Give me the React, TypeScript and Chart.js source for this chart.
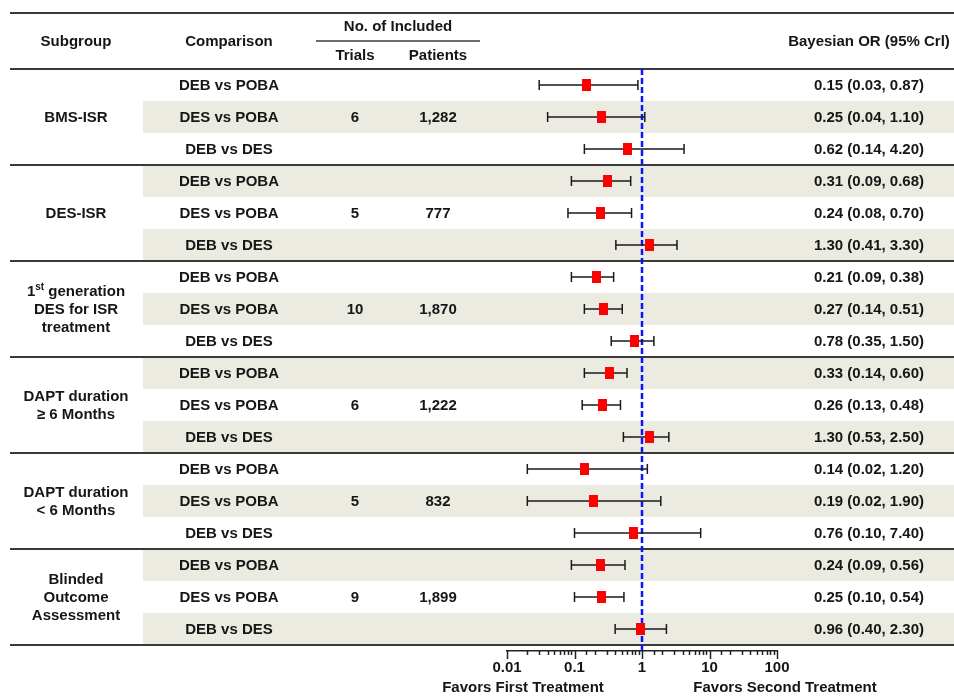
import React, { useEffect, useRef } from 'react';
import { Chart, registerables } from 'chart.js';

Chart.register(...registerables);

// ---------------- data ----------------
const SUBGROUP_LINES: string[][] = [
  ['BMS-ISR'],
  ['DES-ISR'],
  ['1^{st} generation', 'DES for ISR', 'treatment'],
  ['DAPT duration', '\u2265 6 Months'],
  ['DAPT duration', '< 6 Months'],
  ['Blinded', 'Outcome', 'Assessment'],
];
const COMPARISONS = ['DEB vs POBA', 'DES vs POBA', 'DEB vs DES'];
const TRIALS = ['6', '5', '10', '6', '5', '9'];
const PATIENTS = ['1,282', '777', '1,870', '1,222', '832', '1,899'];

const OR_MEAN = [0.15, 0.25, 0.62, 0.31, 0.24, 1.3, 0.21, 0.27, 0.78, 0.33, 0.26, 1.3, 0.14, 0.19, 0.76, 0.24, 0.25, 0.96];
const OR_LOW = [0.03, 0.04, 0.14, 0.09, 0.08, 0.41, 0.09, 0.14, 0.35, 0.14, 0.13, 0.53, 0.02, 0.02, 0.1, 0.09, 0.1, 0.4];
const OR_HIGH = [0.87, 1.1, 4.2, 0.68, 0.7, 3.3, 0.38, 0.51, 1.5, 0.6, 0.48, 2.5, 1.2, 1.9, 7.4, 0.56, 0.54, 2.3];

const X_TICK_VALUES = [0.01, 0.1, 1, 10, 100];
const X_TICK_LABELS = ['0.01', '0.1', '1', '10', '100'];
const REF_VALUE = 1;

const HEADERS = {
  subgroup: 'Subgroup',
  comparison: 'Comparison',
  included: 'No. of Included',
  trials: 'Trials',
  patients: 'Patients',
  or: 'Bayesian OR (95% Crl)',
};
const FAVORS_LEFT = 'Favors First Treatment';
const FAVORS_RIGHT = 'Favors Second Treatment';

// ---------------- layout ----------------
const W = 954;
const H = 697;
const ROWS = OR_MEAN.length;
const ROW_H = 32;
const TABLE_TOP = 69;
const AXIS_Y = 651;
const Y_MAX = (AXIS_Y - TABLE_TOP) / ROW_H;
const FONT_FAMILY = '"Liberation Sans", Arial, Helvetica, sans-serif';
const FONT = `bold 15px ${FONT_FAMILY}`;
const TEXT_COLOR = '#161616';
const LINE_COLOR = '#3a3a3a';
const SHADE = '#ecebe1';

const COL = { subgroup: 76, comparison: 229, trials: 355, patients: 438, or: 869 };

function fmt(v: number) {
  return v.toFixed(2);
}

function drawRich(ctx: CanvasRenderingContext2D, text: string, cx: number, cy: number) {
  // supports "^{...}" superscripts
  const parts: { t: string; sup: boolean }[] = [];
  const re = /\^\{([^}]*)\}/g;
  let last = 0;
  let m: RegExpExecArray | null;
  while ((m = re.exec(text))) {
    if (m.index > last) parts.push({ t: text.slice(last, m.index), sup: false });
    parts.push({ t: m[1], sup: true });
    last = m.index + m[0].length;
  }
  if (last < text.length) parts.push({ t: text.slice(last), sup: false });
  const supFont = `bold 10px ${FONT_FAMILY}`;
  let total = 0;
  for (const p of parts) {
    ctx.font = p.sup ? supFont : FONT;
    total += ctx.measureText(p.t).width;
  }
  let x = cx - total / 2;
  ctx.textAlign = 'left';
  for (const p of parts) {
    ctx.font = p.sup ? supFont : FONT;
    ctx.fillText(p.t, x, p.sup ? cy - 5 : cy);
    x += ctx.measureText(p.t).width;
  }
  ctx.font = FONT;
}

const tablePlugin = {
  id: 'forestTable',
  beforeDraw(chart: any) {
    const ctx: CanvasRenderingContext2D = chart.ctx;
    const y = chart.scales.y;
    ctx.save();
    ctx.fillStyle = '#ffffff';
    ctx.fillRect(0, 0, W, H);
    ctx.fillStyle = SHADE;
    for (let i = 0; i < ROWS; i++) {
      if (i % 2 === 1) {
        const y0 = y.getPixelForValue(i);
        const y1 = y.getPixelForValue(i + 1);
        ctx.fillRect(143, y0, W - 143, y1 - y0);
      }
    }
    // horizontal rules
    ctx.strokeStyle = LINE_COLOR;
    ctx.lineWidth = 2;
    const rule = (yy: number, x0: number, x1: number) => {
      ctx.beginPath();
      ctx.moveTo(x0, yy);
      ctx.lineTo(x1, yy);
      ctx.stroke();
    };
    rule(13, 10, W);
    for (let g = 0; g <= SUBGROUP_LINES.length; g++) {
      rule(Math.round(y.getPixelForValue(g * 3)), 10, W);
    }
    ctx.lineWidth = 1.5;
    rule(41, 316, 480);
    ctx.restore();
  },
  afterDraw(chart: any) {
    const ctx: CanvasRenderingContext2D = chart.ctx;
    const x = chart.scales.x;
    const y = chart.scales.y;
    ctx.save();
    // axis tick marks
    ctx.strokeStyle = '#222';
    ctx.lineWidth = 1.5;
    for (const t of x.ticks) {
      const lg = Math.log10(t.value);
      const major = Math.abs(lg - Math.round(lg)) < 1e-6;
      const px = Math.round(x.getPixelForValue(t.value)) + 0.5;
      ctx.beginPath();
      ctx.moveTo(px, AXIS_Y);
      ctx.lineTo(px, AXIS_Y + (major ? 8 : 4));
      ctx.stroke();
    }
    ctx.fillStyle = TEXT_COLOR;
    ctx.font = FONT;
    ctx.textAlign = 'center';
    ctx.textBaseline = 'middle';
    // headers
    ctx.fillText(HEADERS.subgroup, COL.subgroup, 42);
    ctx.fillText(HEADERS.comparison, COL.comparison, 42);
    ctx.fillText(HEADERS.included, 398, 27);
    ctx.fillText(HEADERS.trials, COL.trials, 56);
    ctx.fillText(HEADERS.patients, COL.patients, 56);
    ctx.fillText(HEADERS.or, COL.or, 42);
    // rows
    for (let i = 0; i < ROWS; i++) {
      const cy = y.getPixelForValue(i + 0.5) + 1;
      ctx.fillText(COMPARISONS[i % 3], COL.comparison, cy);
      ctx.fillText(`${fmt(OR_MEAN[i])} (${fmt(OR_LOW[i])}, ${fmt(OR_HIGH[i])})`, COL.or, cy);
    }
    for (let g = 0; g < SUBGROUP_LINES.length; g++) {
      const cy = y.getPixelForValue(g * 3 + 1.5) + 1;
      ctx.fillText(TRIALS[g], COL.trials, cy);
      ctx.fillText(PATIENTS[g], COL.patients, cy);
      const lines = SUBGROUP_LINES[g];
      const lh = 18;
      const start = cy - ((lines.length - 1) * lh) / 2;
      lines.forEach((ln, k) => {
        drawRich(ctx, ln, COL.subgroup, start + k * lh);
        ctx.textAlign = 'center';
      });
    }
    // favors labels
    ctx.textAlign = 'center';
    ctx.fillText(FAVORS_LEFT, 523, 688);
    ctx.fillText(FAVORS_RIGHT, 785, 688);
    ctx.restore();
  },
};

function makeSquare(): HTMLCanvasElement {
  const c = document.createElement('canvas');
  c.width = 9;
  c.height = 12;
  const g = c.getContext('2d')!;
  g.fillStyle = '#ff0000';
  g.fillRect(0, 0, 9, 12);
  return c;
}

export default function App() {
  const ref = useRef<HTMLCanvasElement | null>(null);
  useEffect(() => {
    document.body.style.margin = '0';
    const canvas = ref.current;
    if (!canvas) return;
    const square = makeSquare();
    const points = OR_MEAN.map((v, i) => ({ x: v, y: i + 0.5 }));
    const ci: any[] = [];
    OR_MEAN.forEach((_, i) => {
      ci.push({ x: OR_LOW[i], y: i + 0.5 });
      ci.push({ x: OR_HIGH[i], y: i + 0.5 });
      ci.push({ x: OR_HIGH[i], y: null });
    });
    const chart = new Chart(canvas, {
      type: 'scatter',
      data: {
        datasets: [
          {
            type: 'scatter',
            data: points,
            pointStyle: square as any,
            pointRadius: 6,
            order: 0,
          } as any,
          {
            type: 'line',
            data: ci,
            borderColor: '#1a1a1a',
            borderWidth: 1.5,
            spanGaps: false,
            showLine: true,
            pointStyle: 'line',
            rotation: 90,
            pointRadius: 5,
            pointBorderWidth: 1.5,
            pointBorderColor: '#1a1a1a',
            order: 1,
          } as any,
          {
            type: 'line',
            data: [
              { x: REF_VALUE, y: 0 },
              { x: REF_VALUE, y: Y_MAX },
            ],
            borderColor: '#0a14ff',
            borderWidth: 2.5,
            borderDash: [6, 3],
            pointRadius: 0,
            order: 2,
          } as any,
        ],
      },
      options: {
        animation: false,
        responsive: false,
        maintainAspectRatio: false,
        layout: { padding: { left: 507, right: 177, top: TABLE_TOP, bottom: 0 } },
        plugins: { legend: { display: false }, tooltip: { enabled: false } },
        scales: {
          x: {
            type: 'logarithmic',
            min: X_TICK_VALUES[0],
            max: X_TICK_VALUES[X_TICK_VALUES.length - 1],
            position: 'bottom',
            grid: { display: false, drawTicks: false },
            border: { display: true, color: '#222', width: 1.5 },
            ticks: {
              autoSkip: false,
              maxRotation: 0,
              padding: 8,
              color: TEXT_COLOR,
              font: { family: FONT_FAMILY, size: 15, weight: 'bold' },
              callback: (v: any) => {
                const idx = X_TICK_VALUES.findIndex((t) => Math.abs(Math.log10(Number(v)) - Math.log10(t)) < 1e-6);
                return idx >= 0 ? X_TICK_LABELS[idx] : '';
              },
            },
            afterFit: (s: any) => {
              s.height = H - AXIS_Y;
            },
          } as any,
          y: { type: 'linear', min: 0, max: Y_MAX, reverse: true, display: false },
        },
      },
      plugins: [tablePlugin],
    });
    return () => chart.destroy();
  }, []);
  return <canvas ref={ref} width={W} height={H} style={{ display: 'block', width: W, height: H }} />;
}
